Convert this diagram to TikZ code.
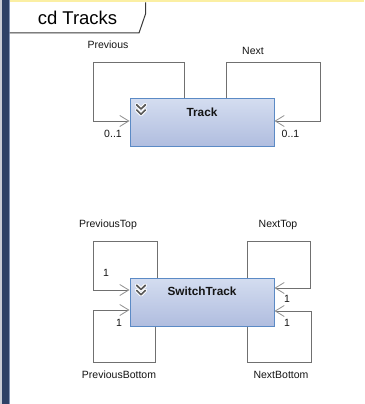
\documentclass[tikz,border=0pt]{standalone}
\usepackage{fontspec}
\setmainfont{Liberation Sans}
\usetikzlibrary{arrows.meta,calc}

\definecolor{boxtop}{HTML}{D4DDF0}
\definecolor{boxbot}{HTML}{B0BDDF}
\definecolor{boxedge}{HTML}{5B8AC5}
\definecolor{wire}{HTML}{707070}
\definecolor{tipgray}{HTML}{909090}
\definecolor{navy}{HTML}{2D4166}
\definecolor{navyedge}{HTML}{8495B5}
\definecolor{sidegray}{HTML}{C9CDD6}
\definecolor{strip}{HTML}{FBEFA3}
\definecolor{tabline}{HTML}{3A3A3A}
\definecolor{ink}{HTML}{141414}
\definecolor{chevgray}{HTML}{585858}

\tikzset{
  classbox/.style={draw=boxedge, line width=1pt, top color=boxtop, bottom color=boxbot,
    minimum width=144pt, minimum height=48pt, inner sep=0pt},
  classname/.style={font=\fontsize{11.8pt}{13pt}\selectfont\bfseries, text=ink},
  rolelabel/.style={font=\fontsize{10.5pt}{12pt}\selectfont, text=ink, inner sep=0pt},
  assoc/.style={draw=wire, line width=0.8pt,
    -{Straight Barb[length=9pt,width=11pt,line width=0.8pt,color=tipgray]}},
  chevrons/.pic={
    \foreach \d in {-2.6,2.6}
      \draw[white, line width=3.8pt, line cap=round, line join=round]
        (-4.3,\d-2.6) -- (0,\d+1.6) -- (4.3,\d-2.6);
    \foreach \d in {-2.6,2.6}
      \draw[chevgray, line width=1.7pt, line cap=round, line join=round]
        (-4.3,\d-2.6) -- (0,\d+1.6) -- (4.3,\d-2.6);
  }
}

\begin{document}
\begin{tikzpicture}[x=1pt,y=-1pt]
  % canvas
  \useasboundingbox (0,0) rectangle (364,404);
  \fill[white] (0,0) rectangle (364,404);

  % window frame: side bar and top strip
  \fill[sidegray] (0,0) rectangle (2,404);
  \fill[navy] (2,0) rectangle (8.5,404);
  \fill[navyedge] (8.5,0) rectangle (9.5,404);
  \fill[strip] (9.5,0) rectangle (364,2.5);

  % diagram title tab
  \draw[tabline, line width=1pt] (9.5,33) -- (139,33) -- (145.5,14) -- (145.5,2.5);
  \node[font=\fontsize{18.5pt}{20pt}\selectfont, text=black, anchor=base] (title) at (77.5,25) {cd Tracks};

  % classes
  \node[classbox, label={[classname, anchor=center, yshift=-14.5pt]north:Track}] (track) at (202,122.5) {};
  \node[classbox, label={[classname, anchor=center, yshift=-14pt]north:SwitchTrack}] (sw) at (202,302) {};
  \pic at ($(track.north west)+(11.5,12)$) {chevrons};
  \pic at ($(sw.north west)+(11.5,13)$) {chevrons};

  % Track self associations
  \draw[assoc] ($(track.north west)+(55,0)$) -- ++(0,-36) -- ++(-91,0) |- ($(track.west)+(0,-1.5)$);
  \draw[assoc] ($(track.north east)+(-48,0)$) -- ++(0,-36) -- ++(94,0) |- ($(track.east)+(0,-1.5)$);

  % SwitchTrack self associations
  \draw[assoc] ($(sw.north west)+(28,0)$) -- ++(0,-36) -- ++(-64,0) |- ($(sw.west)+(0,-12)$);
  \draw[assoc] ($(sw.south west)+(26,0)$) -- ++(0,36) -- ++(-62,0) |- ($(sw.west)+(0,8)$);
  \draw[assoc] ($(sw.north east)+(-27,0)$) -- ++(0,-36) -- ++(63,0) |- ($(sw.east)+(0,-14)$);
  \draw[assoc] ($(sw.south east)+(-27,0)$) -- ++(0,36) -- ++(64,0) |- ($(sw.east)+(0,9)$);

  % role names and multiplicities
  \node[rolelabel] (lprev) at (108,45) {Previous};
  \node[rolelabel] (lnext) at (253,51) {Next};
  \node[rolelabel] (mprev) at (113,134) {0..1};
  \node[rolelabel] (mnext) at (290.5,134) {0..1};

  \node[rolelabel] (lpt) at (108,225) {PreviousTop};
  \node[rolelabel] (lnt) at (278,225) {NextTop};
  \node[rolelabel] (mpt) at (106,273) {1};
  \node[rolelabel] (mpb) at (119,323) {1};
  \node[rolelabel] (mnt) at (287,299) {1};
  \node[rolelabel] (mnb) at (287,323) {1};
  \node[rolelabel] (lpb) at (119,375) {PreviousBottom};
  \node[rolelabel] (lnb) at (281,375) {NextBottom};
\end{tikzpicture}
\end{document}
